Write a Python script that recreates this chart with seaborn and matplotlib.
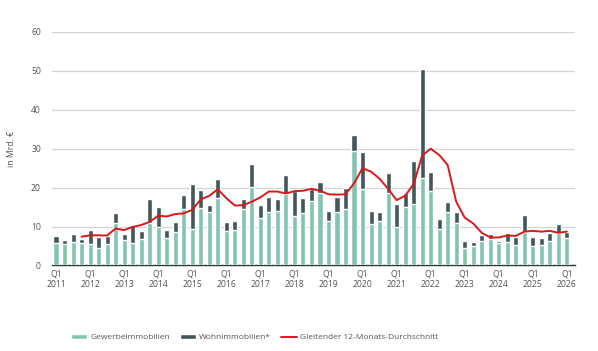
import seaborn as sns
import matplotlib.pyplot as plt
import pandas as pd
import numpy as np
from matplotlib.patches import Patch
from matplotlib.lines import Line2D

# Transaktionsvolumen je Quartal (Mrd. €), Q1 2011 bis Q1 2026
years = list(range(2011, 2027))
quarters = [f"{y}Q{q}" for y in years for q in range(1, 5)][:61]

gewerbe = [
    5.7, 5.4, 6.1, 5.9, 5.6, 4.6, 5.5, 11.0, 6.6, 5.9, 6.8, 11.0,
    9.8, 7.0, 8.6, 14.4, 9.5, 14.7, 13.8, 17.3, 8.9, 9.2, 14.4, 20.1,
    12.2, 13.8, 14.0, 18.3, 12.6, 13.4, 16.6, 18.5, 11.4, 13.8, 14.5, 29.3,
    19.6, 10.7, 11.4, 18.5, 10.0, 15.0, 15.8, 22.5, 19.1, 9.3, 13.8, 10.8,
    4.6, 5.0, 6.4, 6.8, 5.7, 6.1, 5.3, 8.5, 5.0, 5.3, 6.3, 8.4, 7.0,
]
wohnen = [
    1.8, 1.1, 1.9, 1.0, 3.6, 2.7, 2.0, 2.4, 1.6, 4.4, 2.1, 6.0,
    5.3, 2.0, 2.5, 3.6, 11.5, 4.7, 1.8, 5.0, 2.3, 2.3, 2.7, 6.0,
    3.3, 3.9, 3.1, 5.0, 6.5, 4.0, 3.1, 3.0, 2.7, 3.7, 5.5, 4.1,
    9.5, 3.4, 2.4, 5.2, 5.8, 3.7, 11.1, 28.0, 4.9, 2.6, 2.6, 3.0,
    1.8, 1.0, 1.4, 1.3, 0.6, 2.2, 2.1, 4.4, 2.2, 1.8, 2.1, 2.3, 1.6,
]
# gleitender Durchschnitt, beginnt mit Q4 2011
durchschnitt = [np.nan, np.nan, np.nan,
    7.4, 7.75, 7.75, 7.7, 9.5, 9.1, 9.9, 10.4, 11.2,
    12.8, 12.6, 13.2, 13.4, 14.3, 17.0, 17.9, 19.6, 17.3, 15.4, 15.5, 16.4,
    17.5, 19.0, 19.0, 18.5, 19.1, 19.2, 19.7, 19.2, 18.3, 18.2, 18.3, 21.1,
    25.0, 24.1, 22.3, 19.7, 16.8, 17.9, 20.9, 28.2, 30.0, 28.4, 25.8, 16.4,
    12.3, 10.8, 8.4, 7.2, 7.2, 7.7, 7.6, 8.7, 8.9, 8.7, 8.9, 8.4, 8.7,
]

df = pd.DataFrame({"Quartal": quarters, "Gewerbe": gewerbe, "Wohnen": wohnen,
                   "Schnitt": durchschnitt})
df["Gesamt"] = df["Gewerbe"] + df["Wohnen"]
df["pos"] = range(len(df))

green = "#82c4b2"
dark = "#43575a"
red = "#d7191c"
grey = "#555555"

sns.set_style("white")
plt.rcParams["font.family"] = ["Open Sans", "DejaVu Sans"]

fig = plt.figure(figsize=(5.98, 3.51), dpi=100)
ax = fig.add_axes([0.087, 0.2436, 0.8745, 0.6654])

sns.barplot(data=df, x="Quartal", y="Gesamt", color=dark, width=0.6,
            saturation=1, ax=ax, zorder=2)
sns.barplot(data=df, x="Quartal", y="Gewerbe", color=green, width=0.6,
            saturation=1, ax=ax, zorder=3)
sns.lineplot(data=df, x="pos", y="Schnitt", color=red, linewidth=1.4,
             ax=ax, zorder=4)

ax.set_xlim(-0.47, 60.95)
ax.set_ylim(0, 60)
ax.set_yticks(range(0, 61, 10))
ax.yaxis.grid(True, color="#d4d4d4", linewidth=0.9, zorder=0)
ax.set_axisbelow(True)

ticks = list(range(0, 61, 4))
ax.set_xticks(ticks)
ax.set_xticklabels([f"Q1\n{y}" for y in years])
ax.tick_params(axis="both", length=0, labelsize=6.2, colors=grey)
ax.tick_params(axis="y", pad=8)
ax.tick_params(axis="x", pad=3)

for s in ["top", "right", "left"]:
    ax.spines[s].set_visible(False)
ax.spines["bottom"].set_color("#333333")
ax.spines["bottom"].set_linewidth(1.0)

ax.set_xlabel("")
ax.set_ylabel("in Mrd. €", fontsize=6.2, color=grey, labelpad=11)

handles = [
    Patch(facecolor=green, label="Gewerbeimmobilien"),
    Patch(facecolor=dark, label="Wohnimmobilien*"),
    Line2D([0], [0], color=red, linewidth=1.4, label="Gleitender 12-Monats-Durchschnitt"),
]
fig.legend(handles=handles, loc="center", bbox_to_anchor=(0.426, 0.038), ncol=3,
           frameon=False, fontsize=6.0, handlelength=1.9, handleheight=0.55,
           handletextpad=0.4, columnspacing=1.2, labelcolor=grey)

plt.savefig("out.png", dpi=100)
